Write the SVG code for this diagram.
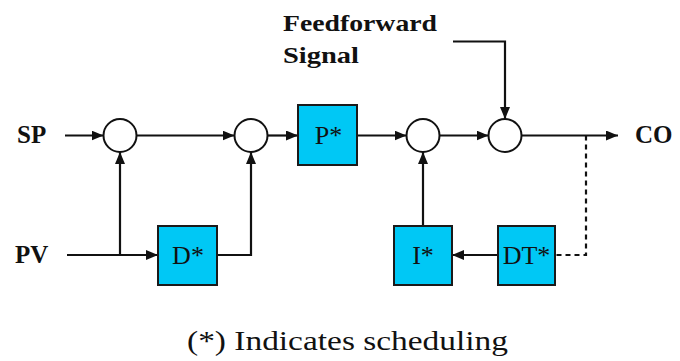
<svg xmlns="http://www.w3.org/2000/svg" width="680" height="361" viewBox="0 0 680 361">
<style>
.box{fill:#00c8f5;stroke:#1a1a1a;stroke-width:2}
.sum{fill:#fff;stroke:#111;stroke-width:2}
.ln{fill:none;stroke:#111;stroke-width:2.2}
.dash{fill:none;stroke:#111;stroke-width:2.2;stroke-dasharray:5,4}
</style>
<defs>
<marker id="ah" viewBox="0 0 12 10" refX="12" refY="5" markerWidth="12" markerHeight="10" markerUnits="userSpaceOnUse" orient="auto">
<path d="M0,0 L12,5 L0,10 Z" fill="#111"/>
</marker>
</defs>
<rect width="680" height="361" fill="#fff"/>
<g id="connectors">
<path class="ln" d="M65,135.5 H103.5" marker-end="url(#ah)"/>
<path class="ln" d="M136.5,135.5 H234.5" marker-end="url(#ah)"/>
<path class="ln" d="M267.5,135.5 H298" marker-end="url(#ah)"/>
<path class="ln" d="M357,135.5 H406.5" marker-end="url(#ah)"/>
<path class="ln" d="M439.5,135.5 H488.5" marker-end="url(#ah)"/>
<path class="ln" d="M521.5,135.5 H618" marker-end="url(#ah)"/>
<path class="ln" d="M67,255 H158" marker-end="url(#ah)"/>
<path class="ln" d="M120,255 V152" marker-end="url(#ah)"/>
<path class="ln" d="M217,255 H251 V152" marker-end="url(#ah)"/>
<path class="ln" d="M453,41.5 H505 V119" marker-end="url(#ah)"/>
<path class="ln" d="M498,255 H452" marker-end="url(#ah)"/>
<path class="ln" d="M423,226 V152" marker-end="url(#ah)"/>
<path class="dash" d="M586,135.5 V255 H555"/>
</g>
<g font-family="Liberation Serif, serif" fill="#111">
<g id="sum1"><circle class="sum" cx="120" cy="135.5" r="16.5"/></g>
<g id="sum2"><circle class="sum" cx="251" cy="135.5" r="16.5"/></g>
<g id="sum3"><circle class="sum" cx="423" cy="135.5" r="16.5"/></g>
<g id="sum4"><circle class="sum" cx="505" cy="135.5" r="16.5"/></g>
<g id="P"><rect class="box" x="298" y="105" width="59" height="60"/><text x="328.5" y="144" font-size="26" text-anchor="middle">P*</text></g>
<g id="D"><rect class="box" x="158" y="226" width="59" height="59"/><text x="188" y="264" font-size="26" text-anchor="middle">D*</text></g>
<g id="I"><rect class="box" x="394" y="226" width="58" height="59"/><text x="423" y="264" font-size="26" text-anchor="middle">I*</text></g>
<g id="DT"><rect class="box" x="498" y="226" width="57" height="59"/><text x="526.5" y="264" font-size="26" text-anchor="middle">DT*</text></g>
<g id="SP"><text x="17" y="143" font-size="25" font-weight="bold">SP</text></g>
<g id="PV"><text x="15" y="263" font-size="25" font-weight="bold">PV</text></g>
<g id="CO"><text x="635" y="143" font-size="25" font-weight="bold">CO</text></g>
<g id="FF"><text x="283" y="31" font-size="23" font-weight="bold" textLength="154" lengthAdjust="spacingAndGlyphs">Feedforward</text><text x="283" y="63" font-size="23" font-weight="bold" textLength="76" lengthAdjust="spacingAndGlyphs">Signal</text></g>
<text x="187" y="350" font-size="28" textLength="321" lengthAdjust="spacingAndGlyphs">(*) Indicates scheduling</text>
</g>
</svg>
